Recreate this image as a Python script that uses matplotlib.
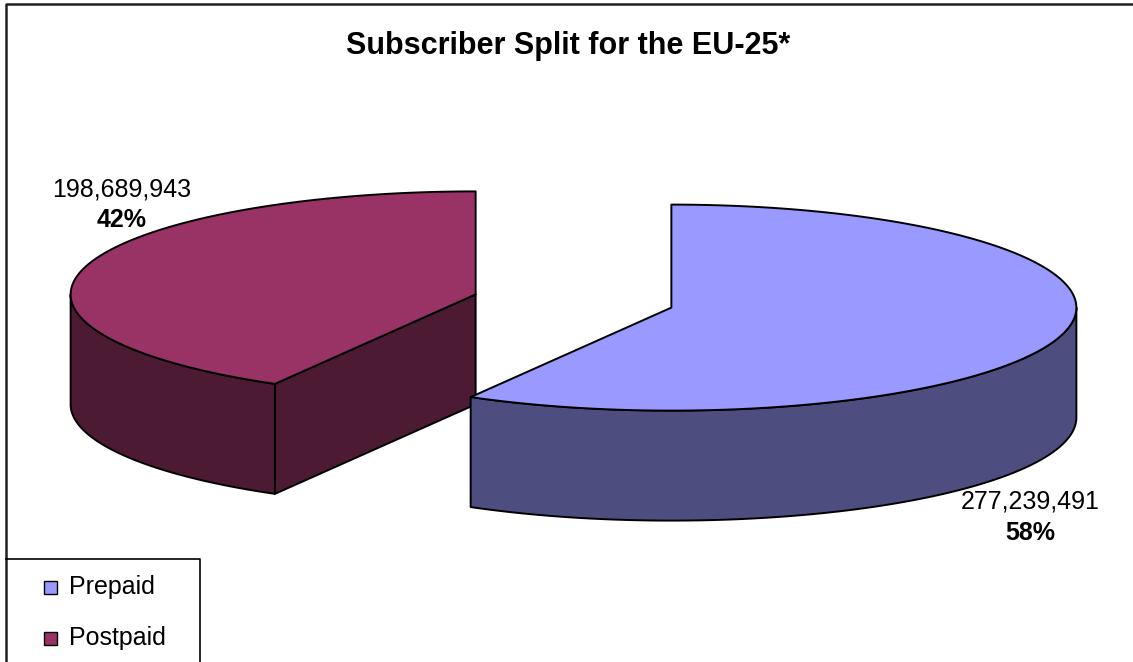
import numpy as np
import matplotlib.pyplot as plt
from matplotlib.patches import Polygon, Rectangle

plt.rcParams['font.family'] = ['Liberation Sans', 'DejaVu Sans']

# subscriber counts
labels = ['Prepaid', 'Postpaid']
subscribers = [277239491, 198689943]
top_colors = ['#9999FF', '#993366']
side_colors = ['#4D4D80', '#4D1A33']

W, H = 1133, 662
fig = plt.figure(figsize=(W / 100, H / 100), dpi=100)
ax = fig.add_axes([0, 0, 1, 1])
ax.set_xlim(0, W)
ax.set_ylim(H, 0)
ax.axis('off')

# 3d pie geometry (pixel space, y down)
cx, cy = 573.5, 301
a, b = 405, 103
depth = 110
explode = 0.25
lw = 1.4

def pt(c, th, r=1.0):
    t = np.radians(th)
    return c[0] + a * r * np.sin(t), c[1] - b * r * np.cos(t)

def arc(c, t0, t1, n=120):
    th = np.linspace(t0, t1, n)
    return np.column_stack([c[0] + a * np.sin(np.radians(th)),
                            c[1] - b * np.cos(np.radians(th))])

total = float(sum(subscribers))
fracs = [v / total for v in subscribers]
starts = np.concatenate([[0], np.cumsum(fracs)[:-1]]) * 360
ends = np.cumsum(fracs) * 360

slices = []
for i in range(len(subscribers)):
    mid = (starts[i] + ends[i]) / 2
    c = pt((cx, cy), mid, explode)
    slices.append((c, starts[i], ends[i]))

# back slice (postpaid) first, then the front one
for i in [1, 0]:
    c, t0, t1 = slices[i]
    down = np.array([0, depth])
    cc = np.array(c)
    # flat cut faces, drawn only when they face forward
    for th, nrm in [(t0, (t0 - 90) % 360), (t1, (t1 + 90) % 360)]:
        if 90 < nrm < 270:
            p = np.array(pt(c, th))
            ax.add_patch(Polygon([cc, p, p + down, cc + down], closed=True,
                                 fc=side_colors[i], ec='black', lw=lw,
                                 joinstyle='round'))
    # outer wall on the front half
    w0, w1 = max(t0, 90), min(t1, 270)
    if w1 > w0:
        top = arc(c, w0, w1)
        ax.add_patch(Polygon(np.vstack([top, (top + down)[::-1]]), closed=True,
                             fc=side_colors[i], ec='black', lw=lw, joinstyle='round'))
    # top face
    face = np.vstack([[c], arc(c, t0, t1, 240)])
    ax.add_patch(Polygon(face, closed=True, fc=top_colors[i], ec='black',
                         lw=lw, joinstyle='round'))

# data labels
label_pos = [(1030, 502), (122, 189)]
for i, v in enumerate(subscribers):
    x, y = label_pos[i]
    ax.text(x, y, f'{v:,}', fontsize=18, ha='center', va='center')
    ax.text(x, y + 31, f'{fracs[i] * 100:.0f}%', fontsize=18,
            fontweight='bold', ha='center', va='center')

ax.text(568, 46, 'Subscriber Split for the EU-25*', fontsize=22,
        fontweight='bold', ha='center', va='center')

# chart border
ax.plot([6, 6, W], [H, 4, 4], color='#202020', lw=1.8, solid_capstyle='butt')

# legend
ax.plot([6, 200, 200], [559, 559, H], color='black', lw=1.2)
for i, name in enumerate(labels):
    y = 587 + 51 * i
    ax.add_patch(Rectangle((44, y - 6.5), 13, 13, fc=top_colors[i],
                           ec='black', lw=1.0))
    ax.text(69, y, name, fontsize=18, ha='left', va='center')

fig.savefig('out.png', dpi=100)
